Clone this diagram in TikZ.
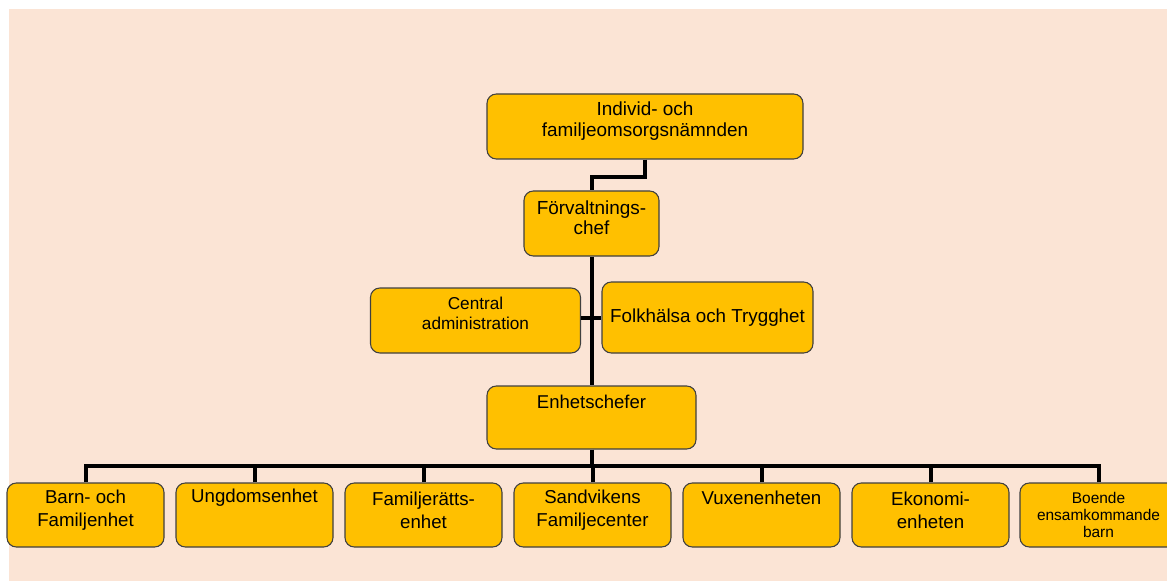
\documentclass[tikz,border=0pt]{standalone}
\usepackage{fontspec}
\setmainfont{Liberation Sans}
\usetikzlibrary{calc}
\definecolor{peach}{HTML}{FBE4D5}
\definecolor{gul}{HTML}{FFC000}

\begin{document}
\begin{tikzpicture}[x=0.75pt,y=-0.75pt]
\tikzset{
  enhet/.style={draw=black!75, line width=0.8pt, fill=gul, rounded corners=7pt,
    minimum width=117.75pt, minimum height=48pt, inner sep=0pt},
  txt/.style={align=center, inner sep=0pt, font=\fontsize{14}{17.5}\selectfont},
  linje/.style={line width=3pt}
}
\useasboundingbox (0,0) rectangle (1167,581);
\fill[peach] (9,9) rectangle (1167,581);

% ledning
\node[enhet, minimum width=237pt, minimum height=48.75pt,
  label={[txt, yshift=3.75pt, font=\fontsize{14.2}{15.75}\selectfont]center:{Individ- och\\familjeomsorgsnämnden}}] (namnd) at (645,126.5) {};
\node[enhet, minimum width=101.25pt, minimum height=48.75pt,
  label={[txt, yshift=4pt, font=\fontsize{14.2}{15}\selectfont]center:{Förvaltnings-\\chef}}] (chef) at (591.5,223.5) {};
\node[enhet, minimum width=157.5pt, minimum height=48.75pt,
  label={[txt, yshift=5.25pt, font=\fontsize{12.9}{15}\selectfont]center:{Central\\administration}}] (central) at (475.5,320.5) {};
\node[enhet, minimum width=158.25pt, minimum height=53.25pt,
  label={[txt, font=\fontsize{14.1}{16}\selectfont]center:{Folkhälsa och Trygghet}}] (folk) at (707.5,317.5) {};
\node[enhet, minimum width=156.75pt, minimum height=47.25pt,
  label={[txt, yshift=11.6pt, font=\fontsize{13.9}{16}\selectfont]center:{Enhetschefer}}] (enh) at (591.5,417.5) {};

% enheter
\foreach \i/\txt/\dy in {1/{Barn- och\\Familjenhet}/3.75, 2/{Ungdomsenhet}/12.75,
    3/{Familjerätts-\\enhet}/3.75, 4/{Sandvikens\\Familjecenter}/3.75,
    5/{Vuxenenheten}/12.75, 6/{Ekonomi-\\enheten}/3.75}
  \node[enhet, label={[txt, yshift=\dy pt]center:{\txt}}] (u\i) at ({85.5+169*(\i-1)},515) {};
\node[enhet, label={[txt, font=\fontsize{11.6}{13}\selectfont]center:{Boende\\ensamkommande\\barn}}] (u7) at (1098.5,515) {};

% linjer
\draw[linje] (namnd.south) -- ++(0,17) -| (chef.north);
\draw[linje] (chef.south) -- (enh.north);
\draw[linje] (folk.west) -- (folk.west -| central.east);
\foreach \i in {1,...,7}
  \draw[linje] (u\i.north) -- ++(0,-16) coordinate (d\i);
\draw[linje] (enh.south) -- (enh.south |- d1);
\draw[linje, line cap=rect] (d1) -- (d7);
\end{tikzpicture}
\end{document}
